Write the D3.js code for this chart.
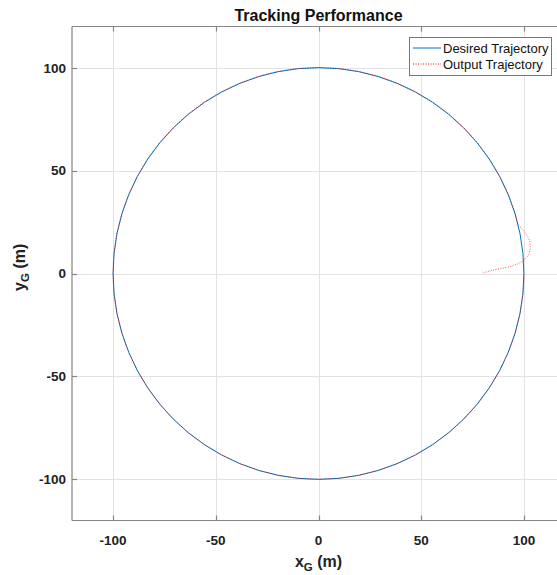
<!DOCTYPE html>
<html>
<head>
<meta charset="utf-8">
<script src="https://cdn.jsdelivr.net/npm/d3@7"></script>
<style>
  html, body { margin: 0; padding: 0; background: #fff; }
  svg { display: block; font-family: "Liberation Sans", Arial, Helvetica, sans-serif; }
</style>
</head>
<body>
<svg id="chart" width="557" height="575"></svg>
<script>
// Axis limits and ticks
const xDomain = [-120, 120];
const yDomain = [-120, 120];
const xTicks = [-100, -50, 0, 50, 100];
const yTicks = [-100, -50, 0, 50, 100];

// Desired trajectory: circle of radius 100 m about the origin
const desiredCenter = [0, 0];
const desiredRadius = 100;

// Output trajectory: transient from the start point until it reaches the circle
const outputX = [80.3, 85.1, 90.0, 94.9, 98.1, 100.6, 102.5, 103.1, 102.6, 101.2, 99.4, 97.2];
const outputY = [0.3, 1.7, 2.6, 3.9, 5.3, 7.0, 9.8, 13.0, 16.2, 18.9, 21.4, 23.6];
// ...after which it stays on the circle until the end of the run (degrees)
const outputEndAngle = 360;

const legendLabels = ["Desired Trajectory", "Output Trajectory"];

const blue = "#0072BD";
const red = "#FF0000";

const svg = d3.select("#chart");
const plot = { left: 72, right: 565, top: 26.5, bottom: 520.5 };

const x = d3.scaleLinear().domain(xDomain).range([plot.left, plot.right]);
const y = d3.scaleLinear().domain(yDomain).range([plot.bottom, plot.top]);

svg.append("rect").attr("width", 557).attr("height", 575).attr("fill", "#fff");

svg.append("defs").append("clipPath").attr("id", "plotClip")
  .append("rect")
  .attr("x", plot.left).attr("y", plot.top)
  .attr("width", plot.right - plot.left).attr("height", plot.bottom - plot.top);

// Grid
const grid = svg.append("g").attr("stroke", "#e3e3e3").attr("stroke-width", 1);
grid.selectAll("line.gx").data(xTicks).join("line")
  .attr("x1", d => Math.round(x(d)) + 0.5).attr("x2", d => Math.round(x(d)) + 0.5)
  .attr("y1", plot.top).attr("y2", plot.bottom);
grid.selectAll("line.gy").data(yTicks).join("line")
  .attr("y1", d => Math.round(y(d)) + 0.5).attr("y2", d => Math.round(y(d)) + 0.5)
  .attr("x1", plot.left).attr("x2", plot.right);

// Curves
const curves = svg.append("g").attr("clip-path", "url(#plotClip)").attr("fill", "none");

curves.append("ellipse")
  .attr("cx", x(desiredCenter[0])).attr("cy", y(desiredCenter[1]))
  .attr("rx", x(desiredRadius) - x(0)).attr("ry", y(0) - y(desiredRadius))
  .attr("stroke", blue).attr("stroke-width", 1);

const outPts = outputX.map((v, i) => [v, outputY[i]]);
const line = d3.line().x(d => x(d[0])).y(d => y(d[1])).curve(d3.curveCatmullRom);
const rx = x(desiredRadius) - x(0), ry = y(0) - y(desiredRadius);
const endRad = outputEndAngle * Math.PI / 180;
const endPt = [desiredRadius * Math.cos(endRad), desiredRadius * Math.sin(endRad) - 0.05];
const outD = line(outPts) +
  `A${rx},${ry} 0 1 0 ${x(endPt[0])},${y(endPt[1])}`;
curves.append("path")
  .attr("d", outD)
  .attr("stroke", red).attr("stroke-width", 0.9).attr("stroke-opacity", 0.75)
  .attr("stroke-dasharray", "1,1.5");

// Axes frame (left, bottom, top)
const axisColor = "#858585";
const frame = svg.append("g").attr("stroke", axisColor).attr("stroke-width", 1.2).attr("fill", "none");
frame.append("line").attr("x1", plot.left).attr("x2", plot.left).attr("y1", plot.top).attr("y2", plot.bottom);
frame.append("line").attr("x1", plot.left).attr("x2", 557).attr("y1", plot.bottom).attr("y2", plot.bottom);
frame.append("line").attr("x1", plot.left).attr("x2", 557).attr("y1", plot.top).attr("y2", plot.top);

// Inward ticks
const tl = 5;
frame.selectAll("line.tb").data(xTicks).join("line")
  .attr("x1", d => Math.round(x(d)) + 0.5).attr("x2", d => Math.round(x(d)) + 0.5)
  .attr("y1", plot.bottom).attr("y2", plot.bottom - tl);
frame.selectAll("line.tt").data(xTicks).join("line")
  .attr("x1", d => Math.round(x(d)) + 0.5).attr("x2", d => Math.round(x(d)) + 0.5)
  .attr("y1", plot.top).attr("y2", plot.top + tl);
frame.selectAll("line.tl").data(yTicks).join("line")
  .attr("y1", d => Math.round(y(d)) + 0.5).attr("y2", d => Math.round(y(d)) + 0.5)
  .attr("x1", plot.left).attr("x2", plot.left + tl);

// Tick labels
const tickFont = { size: 13.5, weight: "bold", color: "#222" };
svg.append("g").selectAll("text").data(xTicks).join("text")
  .attr("x", d => x(d)).attr("y", 545)
  .attr("text-anchor", "middle")
  .attr("font-size", tickFont.size).attr("font-weight", tickFont.weight).attr("fill", tickFont.color)
  .text(d => d);
svg.append("g").selectAll("text").data(yTicks).join("text")
  .attr("x", 66).attr("y", d => y(d)).attr("dy", "0.36em")
  .attr("text-anchor", "end")
  .attr("font-size", tickFont.size).attr("font-weight", tickFont.weight).attr("fill", tickFont.color)
  .text(d => d);

// Title
svg.append("text")
  .attr("x", (plot.left + plot.right) / 2).attr("y", 20.5)
  .attr("text-anchor", "middle")
  .attr("font-size", 16).attr("font-weight", "bold").attr("fill", "#111")
  .text("Tracking Performance");

// Axis labels with subscripts
function subLabel(g, main, sub, rest) {
  g.append("tspan").text(main);
  g.append("tspan").attr("font-size", 11.5).attr("dy", 4).text(sub);
  g.append("tspan").attr("dy", -4).text(rest);
}
const xl = svg.append("text")
  .attr("x", (plot.left + plot.right) / 2).attr("y", 567)
  .attr("text-anchor", "middle")
  .attr("font-size", 16).attr("font-weight", "bold").attr("fill", "#222");
subLabel(xl, "x", "G", " (m)");

const yl = svg.append("text")
  .attr("transform", `translate(25,${y(3)}) rotate(-90)`)
  .attr("text-anchor", "middle")
  .attr("font-size", 16).attr("font-weight", "bold").attr("fill", "#222");
subLabel(yl, "y", "G", " (m)");

// Legend
const lg = svg.append("g");
lg.append("rect")
  .attr("x", 409.5).attr("y", 37.5).attr("width", 142).attr("height", 38)
  .attr("fill", "#fff").attr("stroke", "#777").attr("stroke-width", 1);
const legendStyles = [
  { color: blue, dash: null },
  { color: red, dash: "1,1.5" }
];
legendLabels.forEach((lab, i) => {
  const cy = 48 + i * 16;
  lg.append("line")
    .attr("x1", 413).attr("x2", 441).attr("y1", cy).attr("y2", cy)
    .attr("stroke", legendStyles[i].color).attr("stroke-width", 1)
    .attr("stroke-dasharray", legendStyles[i].dash);
  lg.append("text")
    .attr("x", 443).attr("y", cy).attr("dy", "0.35em")
    .attr("font-size", 13).attr("fill", "#111")
    .text(lab);
});
</script>
</body>
</html>
